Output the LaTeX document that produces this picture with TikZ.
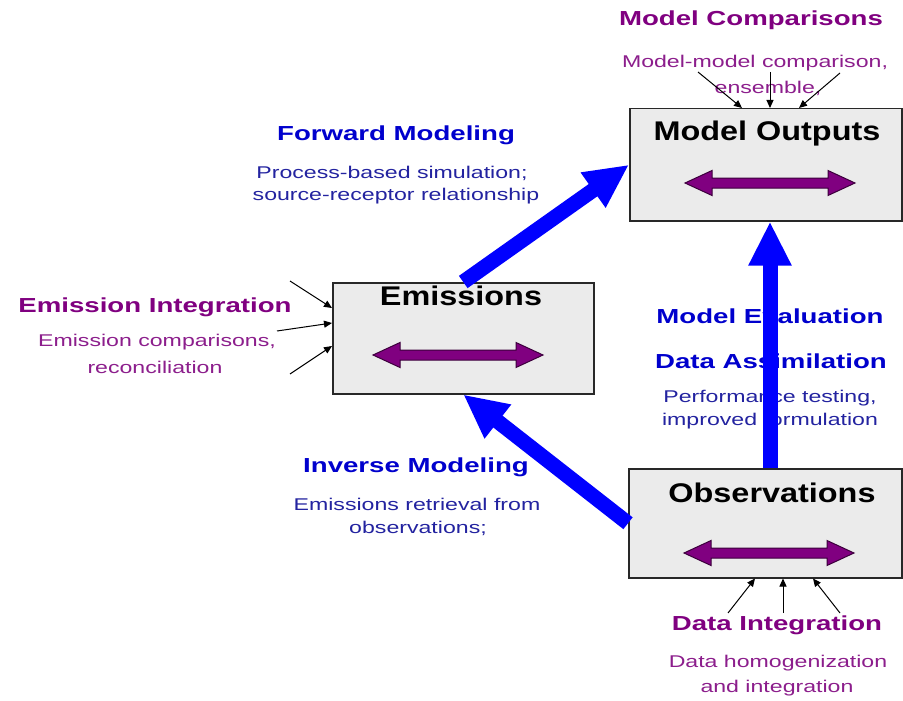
\documentclass[tikz,border=0pt]{standalone}
\usepackage{fontspec}
\setmainfont{Liberation Sans}
\usetikzlibrary{arrows.meta,calc}
\definecolor{ptitle}{RGB}{128,0,128}
\definecolor{ptext}{RGB}{140,30,140}
\definecolor{btitle}{RGB}{0,0,205}
\definecolor{btext}{RGB}{35,35,160}
\definecolor{barrow}{RGB}{0,0,255}
\definecolor{boxfill}{RGB}{235,235,235}
\definecolor{boxline}{RGB}{40,40,40}
\definecolor{pfill}{RGB}{128,0,128}
\definecolor{pline}{RGB}{60,0,60}
\newcommand\wx[1]{\scalebox{1.36}[1]{#1}}
\newcommand\wb[1]{\scalebox{1.2}[1]{#1}}
\newcommand\purplearrow[2]{%
  \draw[parrow] ({#1-85},{#2}) -- ({#1-58},{#2-12.5}) -- ({#1-58},{#2-5}) -- ({#1+58},{#2-5}) -- ({#1+58},{#2-12.5}) -- ({#1+85},{#2}) -- ({#1+58},{#2+12.5}) -- ({#1+58},{#2+5}) -- ({#1-58},{#2+5}) -- ({#1-58},{#2+12.5}) -- cycle;}
\tikzset{
  box/.style={draw=boxline, fill=boxfill, line width=1.5pt, inner sep=0, anchor=north west},
  ttl/.style={anchor=base, inner sep=0, font=\fontsize{20.3}{24}\selectfont\bfseries},
  sml/.style={anchor=base, inner sep=0, font=\fontsize{17}{20}\selectfont},
  btl/.style={anchor=base, inner sep=0, font=\fontsize{27}{30}\selectfont\bfseries},
  parrow/.style={draw=pline, fill=pfill, line width=1pt, line join=miter},
  bigarrow/.style={draw=barrow, line width=15pt, -{Triangle[length=44pt,width=40pt]}},
  sarr/.style={draw=black, line width=1pt, -{Triangle[length=8pt,width=7pt]}}
}
\begin{document}
\begin{tikzpicture}[x=1pt,y=-1pt]
\useasboundingbox[fill=white] (0,0) rectangle (903,701);
% boxes
\node[box, minimum width=272pt, minimum height=112pt] (mo) at (629,108) {};
\node[box, minimum width=261pt, minimum height=111pt] (em) at (332,282) {};
\node[box, minimum width=273pt, minimum height=109pt] (ob) at (628,468) {};
% box titles
\node[btl] (mot) at (767,140) {\wb{Model Outputs}};
\node[btl] (emt) at (461,305) {\wb{Emissions}};
\node[btl] (obt) at (772,502) {\wb{Observations}};
% purple double arrows
\purplearrow{770}{183}
\purplearrow{458}{355}
\purplearrow{769}{553}
% texts
\node[ttl, ptitle] (mc) at (751,26) {\wx{Model Comparisons}};
\node[sml, ptext] (mc1) at (755,68) {\wx{Model-model comparison,}};
\node[sml, ptext] (mc2) at (768,93) {\wx{ensemble,}};
\node[ttl, btitle] (fm) at (396,140) {\wx{Forward Modeling}};
\node[sml, btext] (fm1) at (392,178) {\wx{Process-based simulation;}};
\node[sml, btext] (fm2) at (396,200) {\wx{source-receptor relationship}};
\node[ttl, ptitle] (ei) at (155,312) {\wx{Emission Integration}};
\node[sml, ptext] (ei1) at (157,346) {\wx{Emission comparisons,}};
\node[sml, ptext] (ei2) at (155,373) {\wx{reconciliation}};
\node[ttl, btitle] (me) at (770,323) {\wx{Model Evaluation}};
\node[ttl, btitle] (da) at (771,368) {\wx{Data Assimilation}};
\node[sml, btext] (da1) at (770,402) {\wx{Performance testing,}};
\node[sml, btext] (da2) at (770,425) {\wx{improved formulation}};
\node[ttl, btitle] (im) at (416,472) {\wx{Inverse Modeling}};
\node[sml, btext] (im1) at (417,510) {\wx{Emissions retrieval from}};
\node[sml, btext] (im2) at (418,533) {\wx{observations;}};
\node[ttl, ptitle] (di) at (777,630) {\wx{Data Integration}};
\node[sml, ptext] (di1) at (778,667) {\wx{Data homogenization}};
\node[sml, ptext] (di2) at (777,692) {\wx{and integration}};
% big blue arrows
\coordinate (vx) at (770,0);
\draw[bigarrow] (em.north) -- (mo.west);
\draw[bigarrow] (ob.west) -- (em.south);
\draw[bigarrow] (ob.north -| vx) -- (mo.south -| vx);
% small black arrows
\coordinate (ma1) at (698,72);
\coordinate (ma2) at (770,72);
\coordinate (ma3) at (840,73);
\draw[sarr] (ma1) -- ($(mo.north west)+(113,0)$);
\draw[sarr] (ma2) -- ($(mo.north west)+(141,0)$);
\draw[sarr] (ma3) -- ($(mo.north west)+(170,0)$);
\coordinate (ea1) at (290,281);
\coordinate (ea2) at (277,331);
\coordinate (ea3) at (290,374);
\draw[sarr] (ea1) -- ($(em.north west)+(0,26)$);
\draw[sarr] (ea2) -- ($(em.north west)+(0,41)$);
\draw[sarr] (ea3) -- ($(em.north west)+(0,64)$);
\coordinate (oa1) at (728,613);
\coordinate (oa2) at (783,613);
\coordinate (oa3) at (840,613);
\draw[sarr] (oa1) -- ($(ob.south west)+(127,0)$);
\draw[sarr] (oa2) -- ($(ob.south west)+(155,0)$);
\draw[sarr] (oa3) -- ($(ob.south west)+(185,0)$);
\end{tikzpicture}
\end{document}
